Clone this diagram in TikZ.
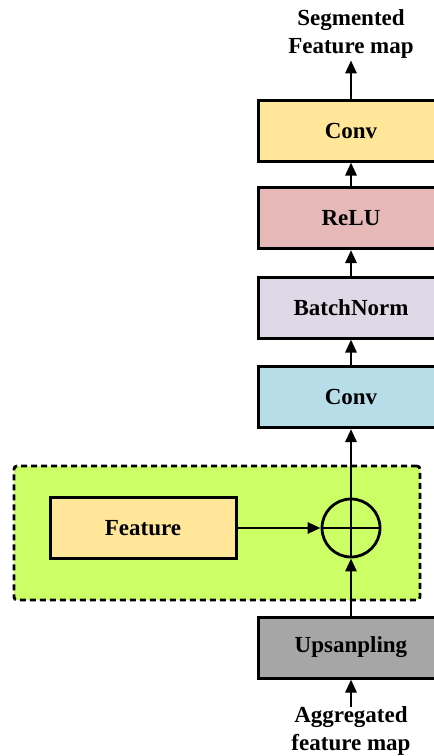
\documentclass[tikz,border=0pt]{standalone}
\usepackage{fontspec}
\setmainfont{Liberation Serif}
\usetikzlibrary{arrows.meta}
\definecolor{convyellow}{HTML}{FFE699}
\definecolor{relupink}{HTML}{E6B9B8}
\definecolor{bnlav}{HTML}{DFD9E7}
\definecolor{convblue}{HTML}{B7DEE8}
\definecolor{grpgreen}{HTML}{CCFF66}
\definecolor{upgray}{HTML}{A6A6A6}
\begin{document}
\begin{tikzpicture}[x=1pt,y=1pt]
\tikzset{
  txt/.style={font=\fontsize{23}{27.5}\selectfont\bfseries},
  box/.style={txt, draw=black, line width=3pt, minimum width=186pt,
              minimum height=61pt, inner sep=0pt},
  flow/.style={line width=2.8pt, -{Triangle[length=13pt,width=11pt]}},
  lbl/.style={txt, align=center, inner sep=0pt},
  group/.style={draw=black, fill=grpgreen, line width=2.8pt,
                dash pattern=on 6pt off 4pt, rounded corners=3pt,
                minimum width=406pt, minimum height=134pt, inner sep=0pt},
  plus/.style={circle, draw=black, line width=2.8pt, minimum size=58pt, inner sep=0pt}
}
\useasboundingbox (0,0) rectangle (434,-756);
\clip (0,0) rectangle (434,-756);

% dashed green grouping region
\node[group] (grp) at (217,-533) {};

% main pipeline boxes
\node[box, fill=convyellow] (conv2) at (351,-130.5) {Conv};
\node[box, fill=relupink]   (relu)  at (351,-218)   {ReLU};
\node[box, fill=bnlav]      (bn)    at (351,-307.5) {BatchNorm};
\node[box, fill=convblue]   (conv1) at (351,-397)   {Conv};
\node[box, fill=upgray]     (up)    at (351,-647.5) {Upsanpling};

% skip feature and element-wise sum
\node[box, fill=convyellow] (feat) at (143,-528) {Feature};
\node[plus] (sum) at (351,-528) {};
\draw[line width=2.8pt] (sum.west) -- (sum.east);
\draw[line width=2.8pt] (sum.south) -- (sum.north);

% input / output labels
\node[lbl] (out) at (351,-34) {Segmented\\Feature map};
\node[lbl] (in)  at (351,-731) {Aggregated\\feature map};

% connectors
\draw[flow] (in.north) -- (up.south);
\draw[flow] (up.north) -- (sum.south);
\draw[flow] (feat.east) -- (sum.west);
\draw[flow] (sum.north) -- (conv1.south);
\draw[flow] (conv1.north) -- (bn.south);
\draw[flow] (bn.north) -- (relu.south);
\draw[flow] (relu.north) -- (conv2.south);
\draw[flow, shorten >=2pt] (conv2.north) -- (out.south);
\end{tikzpicture}
\end{document}
